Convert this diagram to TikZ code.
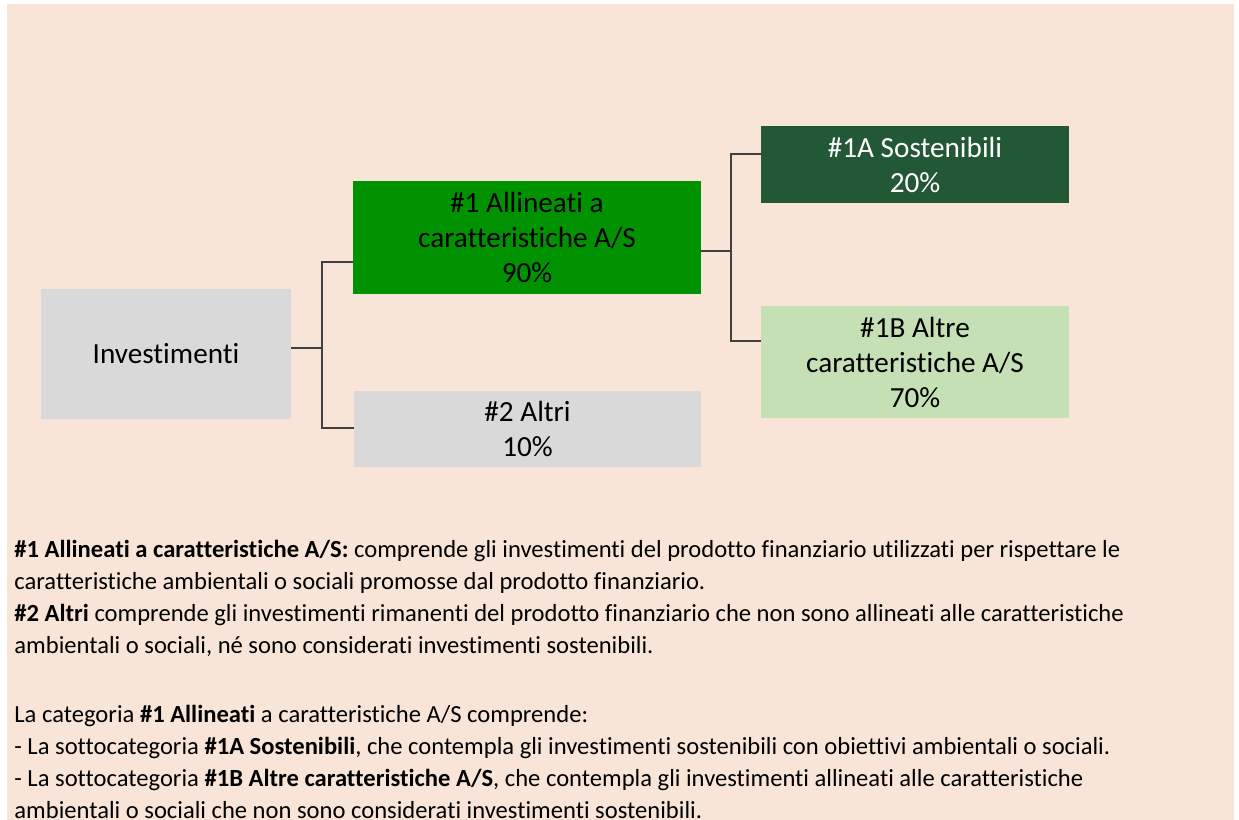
\documentclass[tikz,border=0pt]{standalone}
\usepackage{fontspec}
\setmainfont{Carlito}[Ligatures=NoCommon]
\usetikzlibrary{positioning,calc}
\definecolor{peach}{HTML}{F9E5D7}
\definecolor{boxgray}{HTML}{D9D9D9}
\definecolor{midgreen}{HTML}{009200}
\definecolor{darkgreen}{HTML}{235837}
\definecolor{lightgreen}{HTML}{C5E0B4}
\definecolor{linkgray}{HTML}{404040}

\begin{document}
\begin{tikzpicture}[x=0.5pt,y=-0.5pt,
  cat/.style={rectangle,inner sep=0pt,align=center,font=\fontsize{14.6}{17.5}\selectfont},
  link/.style={draw=linkgray,line width=1.3pt},
  notes/.style={inner sep=0pt,align=left,font=\fontsize{12.3}{16}\selectfont}]
\useasboundingbox (0,0) rectangle (1239,820);
\fill[white] (0,0) rectangle (1239,820);
\fill[peach] (7,4) rectangle (1234,820);
% tree
\node[cat,fill=boxgray,minimum width=125pt,minimum height=65pt] (inv) at (166,354) {Investimenti};
\node[cat,fill=midgreen,minimum width=174pt,minimum height=56.5pt] (al) at (527,237.5) {\#1 Allineati a\\caratteristiche A/S\\90\%};
\node[cat,fill=boxgray,minimum width=173.5pt,minimum height=38pt] (ot) at (527.5,429) {\#2 Altri\\10\%};
\node[cat,fill=darkgreen,text=white,minimum width=154pt,minimum height=38.5pt] (so) at (915,164.5) {\#1A Sostenibili\\20\%};
\node[cat,fill=lightgreen,minimum width=154pt,minimum height=56pt] (ac) at (915,362) {\#1B Altre\\caratteristiche A/S\\70\%};
\coordinate (jm) at (322,348);
\coordinate (ja) at (322,262);
\coordinate (jb) at (322,428);
\coordinate (km) at (731,251);
\coordinate (ka) at (731,154);
\coordinate (kb) at (731,341);
\draw[link] (inv.east |- jm) -- (jm);
\draw[link] (al.west |- ja) -- (ja) -- (jb) -- (ot.west |- jb);
\draw[link] (al.east |- km) -- (km);
\draw[link] (so.west |- ka) -- (ka) -- (kb) -- (ac.west |- kb);
% notes (base = last line)
\node[notes,anchor=base west] (txt) at (14,818) {\textbf{\#1 Allineati a caratteristiche A/S:} comprende gli investimenti del prodotto finanziario utilizzati per rispettare le\\
caratteristiche ambientali o sociali promosse dal prodotto finanziario.\\
\textbf{\#2 Altri} comprende gli investimenti rimanenti del prodotto finanziario che non sono allineati alle caratteristiche\\
ambientali o sociali, né sono considerati investimenti sostenibili.\\[18.5pt]
La categoria \textbf{\#1 Allineati} a caratteristiche A/S comprende:\\
- La sottocategoria \textbf{\#1A Sostenibili}, che contempla gli investimenti sostenibili con obiettivi ambientali o sociali.\\
- La sottocategoria \textbf{\#1B Altre caratteristiche A/S}, che contempla gli investimenti allineati alle caratteristiche\\
ambientali o sociali che non sono considerati investimenti sostenibili.};
\end{tikzpicture}
\end{document}
